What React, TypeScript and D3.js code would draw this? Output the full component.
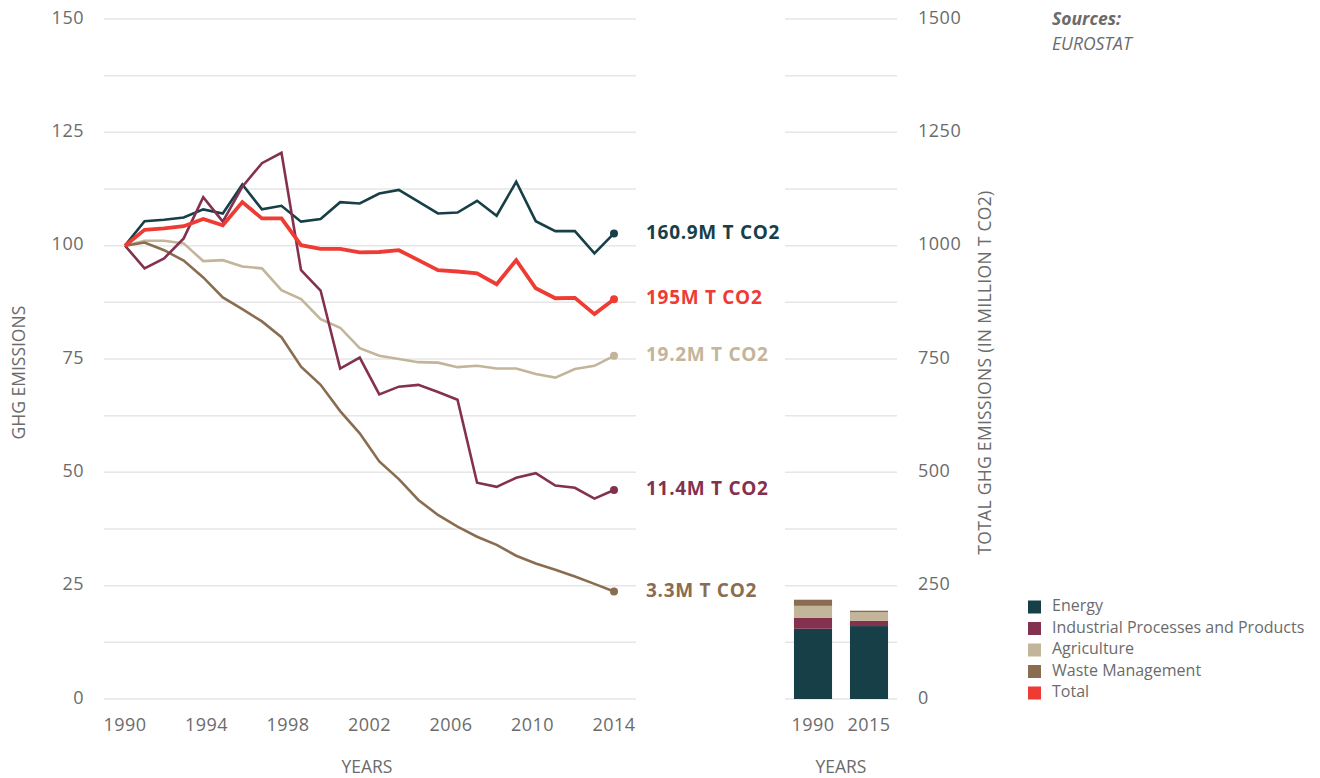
import React from 'react';
import * as d3 from 'd3';

// index values, 1990 = 100
const years = [1990, 1991, 1992, 1993, 1994, 1995, 1996, 1997, 1998, 1999, 2000, 2001, 2002,
  2003, 2004, 2005, 2006, 2007, 2008, 2009, 2010, 2011, 2012, 2013, 2014, 2015];

const energy = [100, 105.4, 105.7, 106.2, 108, 107.1, 113.5, 108, 108.8, 105.3, 105.9, 109.6, 109.3,
  111.5, 112.3, 109.7, 107.1, 107.3, 109.9, 106.6, 114.1, 105.4, 103.2, 103.2, 98.3, 102.7];
const total = [100, 103.5, 103.8, 104.3, 105.9, 104.5, 109.6, 106, 106, 100.1, 99.3, 99.3, 98.5,
  98.6, 99, 96.8, 94.6, 94.3, 93.9, 91.5, 96.8, 90.6, 88.4, 88.5, 84.9, 88.2];
const agriculture = [100, 101.1, 101.1, 100.5, 96.6, 96.8, 95.4, 95.0, 90.2, 88.2, 83.8, 81.9, 77.4,
  75.7, 75.0, 74.3, 74.2, 73.2, 73.5, 72.9, 72.9, 71.7, 70.9, 72.8, 73.5, 75.7];
const industrial = [100, 95, 97.2, 101.6, 110.7, 105.3, 113, 118.2, 120.5, 94.6, 90.1, 72.9, 75.3,
  67.2, 68.9, 69.3, 67.7, 66, 47.7, 46.8, 48.8, 49.8, 47.1, 46.6, 44.2, 46.1];
const waste = [100, 100.7, 99.0, 96.7, 93.0, 88.6, 86.0, 83.3, 79.8, 73.3, 69.3, 63.5, 58.6,
  52.4, 48.5, 43.9, 40.6, 38.0, 35.8, 34.0, 31.6, 29.9, 28.5, 27.0, 25.4, 23.7];

const endLabels = ['160.9M T CO2', '195M T CO2', '19.2M T CO2', '11.4M T CO2', '3.3M T CO2'];

const xTickLabels = ['1990', '1994', '1998', '2002', '2006', '2010', '2014'];
const yTicks = [0, 25, 50, 75, 100, 125, 150];
const yRightTicks = [0, 250, 500, 750, 1000, 1250, 1500];

// totals in million t CO2
const barYears = ['1990', '2015'];
const barEnergy = [155, 160.9];
const barIndustrial = [24.5, 11.4];
const barAgriculture = [26, 19.2];
const barWaste = [13.5, 3.3];

const legendNames = ['Energy', 'Industrial Processes and Products', 'Agriculture', 'Waste Management', 'Total'];

const C = {
  energy: '#173f48',
  industrial: '#83314f',
  agriculture: '#c3b599',
  waste: '#8a6d50',
  total: '#ee3b33',
};

const FONT = '"Open Sans", "Noto Sans", sans-serif';
const GREY = '#6b6b6b';
const GRID = '#e6e6e6';

export default function App() {
  const W = 1320, H = 778;

  const x = d3.scaleLinear().domain([1990, 2015]).range([125, 614]);
  const xTicks = d3.scalePoint<string>().domain(xTickLabels).range([125, 614]);
  const y = d3.scaleLinear().domain([0, 150]).range([699, 19]);
  const yR = d3.scaleLinear().domain([0, 1500]).range([699, 19]);
  const xb = d3.scaleBand<string>().domain(barYears).range([785, 897]).paddingInner(0.32).paddingOuter(0.16);

  const series = [
    { key: 'energy', values: energy, color: C.energy, width: 2.6, label: endLabels[0] },
    { key: 'agriculture', values: agriculture, color: C.agriculture, width: 2.6, label: endLabels[2] },
    { key: 'waste', values: waste, color: C.waste, width: 2.6, label: endLabels[4] },
    { key: 'industrial', values: industrial, color: C.industrial, width: 2.6, label: endLabels[3] },
    { key: 'total', values: total, color: C.total, width: 3.8, label: endLabels[1] },
  ];

  const line = d3.line<number>()
    .x((_, i) => x(years[i]))
    .y(d => y(d));

  const grid = d3.range(0, 150.01, 12.5);
  const gridR = d3.range(0, 1500.1, 125);

  const stackData = barYears.map((yr, i) => ({
    year: yr,
    energy: barEnergy[i],
    industrial: barIndustrial[i],
    agriculture: barAgriculture[i],
    waste: barWaste[i],
  }));
  const stack = d3.stack<any>().keys(['energy', 'industrial', 'agriculture', 'waste'])(stackData);

  const legendColors = [C.energy, C.industrial, C.agriculture, C.waste, C.total];

  return (
    <div style={{ position: 'absolute', left: 0, top: 0 }}>
      <svg width={W} height={H} style={{ display: 'block', fontFamily: FONT }}>
        {/* left grid */}
        {grid.map(g => (
          <line key={'g' + g} x1={104} x2={636} y1={y(g)} y2={y(g)} stroke={GRID} strokeWidth={1.5} />
        ))}
        {yTicks.map(t => (
          <text key={'yl' + t} x={84} y={y(t)} textAnchor="end" dominantBaseline="middle"
            fontSize={18} letterSpacing={0.5} fill={GREY}>{t}</text>
        ))}
        <text transform={`translate(20,${y(72)}) rotate(-90)`} textAnchor="middle" fontSize={17.5}
          fill={GREY} dominantBaseline="middle">GHG EMISSIONS</text>

        {xTickLabels.map(t => (
          <text key={'xt' + t} x={xTicks(t)} y={731} textAnchor="middle" fontSize={18} letterSpacing={0.5}
            fill={GREY}>{t}</text>
        ))}
        <text x={367} y={773} textAnchor="middle" fontSize={17.5} fill={GREY}>YEARS</text>

        {/* lines */}
        {series.map(s => (
          <g key={s.key}>
            <path d={line(s.values) || ''} fill="none" stroke={s.color} strokeWidth={s.width}
              strokeLinejoin="miter" />
            <circle cx={x(years[years.length - 1])} cy={y(s.values[s.values.length - 1])} r={4} fill={s.color} />
            <text x={646} y={y(s.values[s.values.length - 1])} dominantBaseline="middle" fontSize={19}
              letterSpacing={0.7} fontWeight={700} fill={s.color}>{s.label}</text>
          </g>
        ))}

        {/* bar chart */}
        {gridR.map(g => (
          <line key={'gr' + g} x1={785} x2={897} y1={yR(g)} y2={yR(g)} stroke={GRID} strokeWidth={1.5} />
        ))}
        {stack.map(layer => (
          <g key={layer.key} fill={(C as any)[layer.key]}>
            {layer.map(d => (
              <rect key={d.data.year} x={xb(d.data.year)} y={yR(d[1])} width={xb.bandwidth()}
                height={yR(d[0]) - yR(d[1])} />
            ))}
          </g>
        ))}
        {yRightTicks.map(t => (
          <text key={'yr' + t} x={918} y={yR(t)} dominantBaseline="middle" fontSize={18} letterSpacing={0.5}
            fill={GREY}>{t}</text>
        ))}
        <text transform={`translate(986,${yR(720)}) rotate(-90)`} textAnchor="middle" fontSize={17.5}
          letterSpacing={0.3} fill={GREY} dominantBaseline="middle">TOTAL GHG EMISSIONS (IN MILLION T CO2)</text>
        {barYears.map(b => (
          <text key={'bx' + b} x={(xb(b) || 0) + xb.bandwidth() / 2} y={731} textAnchor="middle"
            fontSize={18} letterSpacing={0.5} fill={GREY}>{b}</text>
        ))}
        <text x={841} y={773} textAnchor="middle" fontSize={17.5} fill={GREY}>YEARS</text>

        {/* legend */}
        {legendNames.map((n, i) => (
          <g key={n} transform={`translate(1028,${607 + i * 21.5})`}>
            <rect x={0} y={-6.5} width={13} height={13} fill={legendColors[i]} />
            <text x={24} y={0} dominantBaseline="middle" fontSize={16} fill={GREY}>{n}</text>
          </g>
        ))}

        {/* source */}
        <text x={1052} y={25} fontSize={17.5} fontStyle="italic" fontWeight={700} fill={GREY}>Sources:</text>
        <text x={1052} y={50} fontSize={17.5} fontStyle="italic" fill={GREY}>EUROSTAT</text>
      </svg>
    </div>
  );
}
